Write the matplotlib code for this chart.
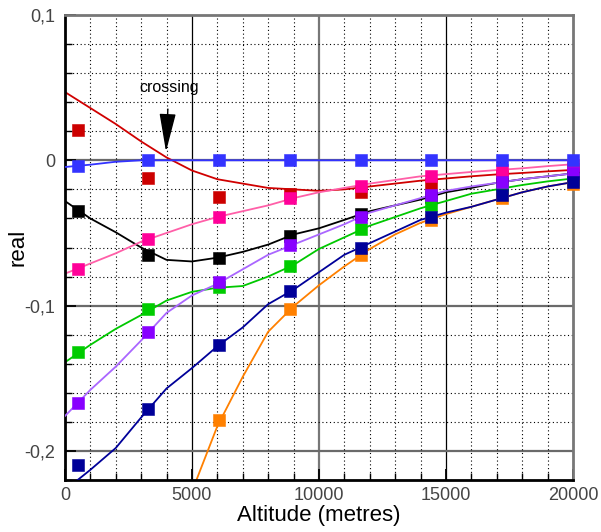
import matplotlib
matplotlib.use("Agg")
import matplotlib.pyplot as plt
import numpy as np

# ---- data -------------------------------------------------------------
# altitudes at which the square samples were taken (metres)
sample_alt = [500, 3286, 6071, 8857, 11643, 14429, 17214, 20000]

# altitude grid of the continuous curves (metres)
curve_alt = [0, 1000, 2000, 3000, 4000, 5000, 6000, 7000, 8000, 9000, 10000,
             11000, 12000, 13000, 14000, 15000, 16000, 17000, 18000, 19000, 20000]
orange_alt = [5000, 6000, 7000, 8000, 9000, 10000, 11000, 12000, 13000,
              14000, 15000, 16000, 17000, 18000, 19000, 20000]

# square samples
red_pts = [0.021, -0.012, -0.025, -0.023, -0.022, -0.016, -0.011, -0.006]
black_pts = [-0.035, -0.065, -0.067, -0.052, -0.037, -0.025, -0.016, -0.010]
green_pts = [-0.132, -0.102, -0.087, -0.073, -0.047, -0.031, -0.020, -0.013]
orange_pts = [np.nan, np.nan, -0.179, -0.102, -0.065, -0.041, -0.026, -0.016]
pink_pts = [-0.075, -0.054, -0.039, -0.026, -0.018, -0.011, -0.0066, -0.003]
purple_pts = [-0.167, -0.118, -0.084, -0.058, -0.039, -0.024, -0.015, -0.009]
navy_pts = [-0.210, -0.171, -0.127, -0.090, -0.060, -0.039, -0.024, -0.015]
blue_pts = [-0.004, 0.0, 0.0, 0.0, 0.0, 0.0, 0.0, 0.0]

# continuous curves
red_curve = [0.047, 0.036, 0.025, 0.013, 0.002, -0.007, -0.013, -0.016, -0.019,
             -0.020, -0.021, -0.020, -0.018, -0.016, -0.014, -0.0125, -0.011,
             -0.0097, -0.0087, -0.0076, -0.0066]
black_curve = [-0.028, -0.040, -0.0495, -0.060, -0.0685, -0.0696, -0.067, -0.063,
               -0.058, -0.051, -0.0468, -0.041, -0.035, -0.031, -0.027, -0.022,
               -0.019, -0.0155, -0.013, -0.011, -0.009]
green_curve = [-0.139, -0.127, -0.116, -0.1065, -0.0965, -0.0905, -0.0877, -0.0865,
               -0.080, -0.072, -0.061, -0.053, -0.045, -0.039, -0.033, -0.028,
               -0.023, -0.020, -0.017, -0.0145, -0.0125]
orange_curve = [-0.228, -0.183, -0.149, -0.118, -0.1005, -0.086, -0.073, -0.061,
                -0.051, -0.043, -0.037, -0.032, -0.027, -0.022, -0.018, -0.015]
pink_curve = [-0.078, -0.071, -0.064, -0.056, -0.050, -0.044, -0.039, -0.035,
              -0.031, -0.026, -0.022, -0.019, -0.016, -0.0135, -0.011, -0.0095,
              -0.008, -0.0067, -0.0055, -0.004, -0.0027]
purple_curve = [-0.176, -0.158, -0.142, -0.124, -0.105, -0.093, -0.085, -0.075,
                -0.065, -0.058, -0.051, -0.044, -0.036, -0.031, -0.026, -0.021,
                -0.018, -0.0155, -0.013, -0.011, -0.009]
navy_curve = [-0.227, -0.213, -0.198, -0.177, -0.157, -0.143, -0.128, -0.115,
              -0.099, -0.089, -0.077, -0.065, -0.057, -0.049, -0.041, -0.036,
              -0.032, -0.027, -0.022, -0.018, -0.015]
blue_curve = [-0.0046, -0.003, -0.001, 0.0, 0.0, 0.0, 0.0, 0.0, 0.0, 0.0, 0.0,
              0.0, 0.0, 0.0, 0.0, 0.0, 0.0, 0.0, 0.0, 0.0, 0.0]

x_ticks = [0, 5000, 10000, 15000, 20000]
x_ticklabels = ["0", "5000", "10000", "15000", "20000"]
y_ticks = [0.1, 0.0, -0.1, -0.2]
y_ticklabels = ["0,1", "0", "-0,1", "-0,2"]

# ---- figure -----------------------------------------------------------
plt.rcParams['font.family'] = ['Liberation Sans', 'DejaVu Sans']
fig = plt.figure(figsize=(6.01, 5.32), dpi=100)
ax = fig.add_axes([0.108, 0.0977, 0.8453, 0.8741])
ax.set_xlim(0, 20000)
ax.set_ylim(-0.22, 0.1)

# dotted minor grid
ax.set_xticks(np.arange(0, 20001, 1000), minor=True)
ax.set_yticks(np.arange(-0.22, 0.1001, 0.02), minor=True)
ax.grid(which='minor', color='black', lw=0.8, ls=(0, (1, 2.4)), zorder=0)

# solid major grid
for xv, col, lw in [(5000, 'black', 0.9), (10000, '#777777', 1.6), (15000, 'black', 0.9)]:
    ax.axvline(xv, color=col, lw=lw, zorder=0.5)
for yv in [0.0, -0.1, -0.2]:
    ax.axhline(yv, color='#6a6a6a', lw=1.6, zorder=0.5)

# curves and samples (later entries sit on top)
series = [
    (curve_alt, red_curve, red_pts, '#d00000', '#cc0000'),
    (curve_alt, black_curve, black_pts, '#000000', '#000000'),
    (curve_alt, green_curve, green_pts, '#00c800', '#00cc00'),
    (orange_alt, orange_curve, orange_pts, '#ff8000', '#ff8000'),
    (curve_alt, pink_curve, pink_pts, '#ff5fa8', '#ff0099'),
    (curve_alt, purple_curve, purple_pts, '#aa66ff', '#8800ff'),
    (curve_alt, navy_curve, navy_pts, '#000099', '#000099'),
    (curve_alt, blue_curve, blue_pts, '#3333ff', '#3333ff'),
]
z = 2
for cx, cy, pts, lcol, mcol in series:
    ax.plot(cx, cy, color=lcol, lw=1.3, zorder=z)
    z += 0.1
for cx, cy, pts, lcol, mcol in series:
    ax.plot(sample_alt, pts, ls='none', marker='s', ms=8, mfc=mcol,
            mec=mcol, mew=0.4, zorder=z, clip_on=False)
    z += 0.1

# annotation
ax.annotate('crossing', xy=(3980, 0.006), xytext=(4090, 0.05),
            ha='center', va='center', fontsize=11.5, color='black',
            arrowprops=dict(arrowstyle='-|>,head_length=2.1,head_width=0.45',
                            color='black', lw=1.0, shrinkA=8, shrinkB=0),
            zorder=10)

# axes decoration
ax.set_xticks(x_ticks)
ax.set_xticklabels(x_ticklabels)
ax.set_yticks(y_ticks)
ax.set_yticklabels(y_ticklabels)
ax.tick_params(which='major', direction='in', length=8, width=1.3,
               labelsize=13, labelcolor='#444444', color='black')
ax.tick_params(which='minor', direction='in', length=5, width=1.0, color='black')
ax.tick_params(axis='x', pad=5)
ax.tick_params(axis='y', pad=7)

for side in ['left', 'bottom']:
    ax.spines[side].set_color('black')
    ax.spines[side].set_linewidth(2)
for side in ['top', 'right']:
    ax.spines[side].set_color('#777777')
    ax.spines[side].set_linewidth(2)

ax.set_xlabel('Altitude (metres)', fontsize=16, labelpad=1)
ax.set_ylabel('real', fontsize=16)
ax.yaxis.set_label_coords(-0.072, 0.5)

fig.savefig('out.png', dpi=100)
